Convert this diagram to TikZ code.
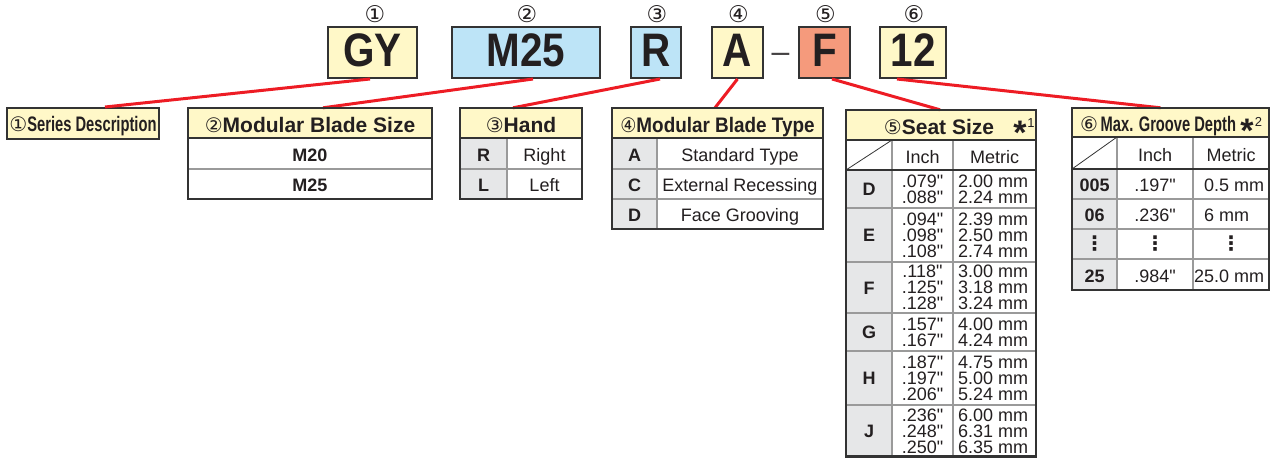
\documentclass[tikz,border=0pt]{standalone}
\usepackage{fontspec}
\usepackage{graphicx}
\setmainfont[Ligatures=TeXOff]{Liberation Sans}
\newfontfamily\condA[FakeStretch=0.86]{Liberation Sans}
\newfontfamily\condB[FakeStretch=0.7]{Liberation Sans}
\newfontfamily\dejavu{DejaVu Sans}
\newcommand\myfs[1]{\fontsize{#1}{#1}\selectfont}
\newcommand\hc[1]{{\dejavu\mdseries\fontsize{20}{20}\selectfont #1}}
\definecolor{hdr}{HTML}{FFF8C8}
\definecolor{bluef}{HTML}{BDE4F7}
\definecolor{salm}{HTML}{F59A7C}
\definecolor{cellg}{HTML}{E6E7E8}
\definecolor{ink}{HTML}{231F20}
\definecolor{frame}{HTML}{333333}
\definecolor{gridc}{HTML}{9A9A9A}
\definecolor{redl}{HTML}{ED1C24}
\tikzset{
 outer/.style={draw=frame, line width=2.2pt},
 hdrline/.style={draw=frame, line width=1.6pt},
 subline/.style={draw=frame, line width=1.1pt},
 gridl/.style={draw=gridc, line width=1.2pt},
 redline/.style={draw=redl, line width=3pt},
 codebox/.style={draw=frame, line width=2pt, inner sep=0pt, minimum height=51pt, text=ink, font=\condA\bfseries\myfs{47}, text height=34pt, text depth=6pt},
 circnum/.style={inner sep=0pt, text=ink, font=\dejavu\myfs{23}},
 hdrbox/.style={fill=hdr, inner sep=0pt, draw=none},
 ttl/.style={anchor=base, inner sep=0pt, text=ink, font=\bfseries\myfs{21}},
 cellb/.style={anchor=base, inner sep=0pt, text=ink, font=\bfseries\myfs{18}},
 cellr/.style={anchor=base, inner sep=0pt, text=ink, font=\myfs{18}},
 cellm/.style={align=center, inner sep=0pt, text=ink, font=\fontsize{18}{16}\selectfont},
 vdots/.style={inner sep=0pt, text=ink, font=\dejavu\bfseries\myfs{20}},
 star/.style={anchor=base, inner sep=0pt, text=ink, font=\bfseries\myfs{34}},
 supn/.style={anchor=base, inner sep=0pt, text=ink, font=\myfs{13}},
}
\begin{document}
\begin{tikzpicture}[x=1pt,y=-1pt]
\useasboundingbox (0,0) rectangle (1276,458);
% code boxes
\node[codebox, fill=hdr, minimum width=89pt] (gy) at (372.5,52.5) {GY};
\node[codebox, fill=bluef, minimum width=148pt] (m25) at (526,52.5) {M25};
\node[codebox, fill=bluef, minimum width=50pt] (r) at (656,52.5) {R};
\node[codebox, fill=hdr, minimum width=51pt] (a) at (737.5,52.5) {A};
\node[anchor=base, inner sep=0pt, text=ink!85, font=\myfs{32}] (dash) at (780.5,62) {–};
\node[codebox, fill=salm, minimum width=51pt] (f) at (824.5,52.5) {F};
\node[codebox, fill=hdr, minimum width=66pt] (n12) at (913,52.5) {12};
% circled numbers
\node[circnum] (c1) at (375,14) {①};
\node[circnum] (c2) at (527,14) {②};
\node[circnum] (c3) at (657,14) {③};
\node[circnum] (c4) at (738.5,14) {④};
\node[circnum] (c5) at (825.5,14) {⑤};
\node[circnum] (c6) at (914,14) {⑥};
% table 1
\node[draw=frame, line width=2pt, fill=hdr, minimum width=152pt, minimum height=31pt, inner sep=0pt, text height=15pt, text depth=0pt, text=ink] (t1) at (83,123.5) {{\dejavu\myfs{20}①}{\condB\bfseries\myfs{21}Series Description}};
% header fills
\node[hdrbox, minimum width=244pt, minimum height=30pt] (h2) at (310,123) {};
\node[hdrbox, minimum width=122pt, minimum height=30pt] (h3) at (521,123) {};
\node[hdrbox, minimum width=211pt, minimum height=30pt] (h4) at (717.5,123) {};
\node[hdrbox, minimum width=190pt, minimum height=30pt] (h5) at (941,125) {};
\node[hdrbox, minimum width=197pt, minimum height=29pt] (h6) at (1170.5,122.5) {};
% gray cells
\fill[cellg] (460,138) rectangle (507,199);
\fill[cellg] (612,138) rectangle (657,229);
\fill[cellg] (846,170) rectangle (892,456.5);
\fill[cellg] (1072,169) rectangle (1117,290);
% red connectors
\draw[redline] ([xshift=-2.5pt]gy.south) -- ([xshift=22pt]t1.north);
\draw[redline] ([xshift=7pt]m25.south) -- ([xshift=13pt]h2.north);
\draw[redline] ([xshift=4pt]r.south) -- ([xshift=-8pt]h3.north);
\draw[redline] (a.south) -- ([xshift=-2.5pt]h4.north);
\draw[redline] ([xshift=7.5pt]f.south) -- ([xshift=-1pt]h5.north);
\draw[redline] ([xshift=-16pt]n12.south) -- ([xshift=-10pt]h6.north);
% table 2 lines
\draw[gridl] (188,169) -- (432,169);
\draw[hdrline] (188,138) -- (432,138);
\draw[outer] (188,108) rectangle (432,199);
% table 3 lines
\draw[gridl] (460,169) -- (582,169) (507,138) -- (507,199);
\draw[hdrline] (460,138) -- (582,138);
\draw[outer] (460,108) rectangle (582,199);
% table 4 lines
\draw[gridl] (612,169) -- (823,169) (612,199) -- (823,199) (657,138) -- (657,229);
\draw[hdrline] (612,138) -- (823,138);
\draw[outer] (612,108) rectangle (823,229);
% table 5 lines
\draw[gridl] (846,208) -- (1036,208) (846,262) -- (1036,262) (846,313) -- (1036,313)
  (846,351) -- (1036,351) (846,405) -- (1036,405) (892,140) -- (892,456.5) (953,140) -- (953,456.5);
\draw[subline] (846,170) -- (1036,170);
\draw[line width=0.8pt, draw=frame] (846,170) -- (892,140);
\draw[hdrline] (846,140) -- (1036,140);
\draw[outer] (846,110) rectangle (1036,456.5);
% table 6 lines
\draw[gridl] (1072,199) -- (1269,199) (1072,229) -- (1269,229) (1072,259) -- (1269,259)
  (1117,137) -- (1117,290) (1193,137) -- (1193,290);
\draw[subline] (1072,169) -- (1269,169);
\draw[line width=0.8pt, draw=frame] (1072,169) -- (1117,137);
\draw[hdrline] (1072,137) -- (1269,137);
\draw[outer] (1072,108) rectangle (1269,290);
% table 2 text
\node[ttl] (h2t) at (310,132) {\hc{②}Modular Blade Size};
\node[cellb] (m20r) at (310,161) {M20};
\node[cellb] (m25r) at (310,191) {M25};
% table 3 text
\node[ttl] (h3t) at (521,132) {\hc{③}Hand};
\node[cellb] (rr) at (483.5,161) {R};
\node[cellb] (ll) at (483.5,191) {L};
\node[cellr] (right) at (544.5,161) {Right};
\node[cellr] (left) at (544.5,191) {Left};
% table 4 text
\node[ttl] (h4t) at (717.5,132) {\scalebox{0.9}[1]{\hc{④}Modular Blade Type}};
\node[cellb] (ta) at (634.5,161) {A};
\node[cellb] (tc) at (634.5,191) {C};
\node[cellb] (td) at (634.5,221) {D};
\node[cellr] (std) at (740,161) {Standard Type};
\node[cellr] (ext) at (740,191) {External Recessing};
\node[cellr] (face) at (740,221) {Face Grooving};
% table 5 text
\node[ttl] (h5t) at (939,134) {\hc{⑤}Seat Size};
\node[star] (s5) at (1020,144) {*};
\node[supn] (s5n) at (1031,127) {1};
\node[cellr] (in5) at (922.5,163) {Inch};
\node[cellr] (me5) at (994.5,163) {Metric};
\node[cellb] (sd) at (869,195.5) {D};
\node[cellb] (se) at (869,241.5) {E};
\node[cellb] (sf) at (869,294) {F};
\node[cellb] (sg) at (869,338.5) {G};
\node[cellb] (sh) at (869,384.5) {H};
\node[cellb] (sj) at (869,437.5) {J};
\node[cellm] (id) at (922.5,189) {.079"\\.088"};
\node[cellm] (ie) at (922.5,235) {.094"\\.098"\\.108"};
\node[cellm] (if) at (922.5,287.5) {.118"\\.125"\\.128"};
\node[cellm] (ig) at (922.5,332) {.157"\\.167"};
\node[cellm] (ih) at (922.5,378) {.187"\\.197"\\.206"};
\node[cellm] (ij) at (922.5,431) {.236"\\.248"\\.250"};
\node[cellm] (md) at (993,189) {2.00 mm\\2.24 mm};
\node[cellm] (me) at (993,235) {2.39 mm\\2.50 mm\\2.74 mm};
\node[cellm] (mf) at (993,287.5) {3.00 mm\\3.18 mm\\3.24 mm};
\node[cellm] (mg) at (993,332) {4.00 mm\\4.24 mm};
\node[cellm] (mh) at (993,378) {4.75 mm\\5.00 mm\\5.24 mm};
\node[cellm] (mj) at (993,431) {6.00 mm\\6.31 mm\\6.35 mm};
% table 6 text
\node[anchor=base, inner sep=0pt, text=ink] (h6t) at (1158,131.5) {{\dejavu\myfs{20}⑥} {\condB\bfseries\myfs{21}Max. Groove Depth}};
\node[star] (s6) at (1247,142) {*};
\node[supn] (s6n) at (1258.5,126.5) {2};
\node[cellr] (in6) at (1155,161.5) {Inch};
\node[cellr] (me6) at (1231,161.5) {Metric};
\node[cellb] (g005) at (1094.5,191.5) {005};
\node[cellb] (g06) at (1094.5,221.5) {06};
\node[vdots] (gdots) at (1094.5,244) {⋮};
\node[cellb] (g25) at (1094.5,282) {25};
\node[cellr] (i005) at (1155,191.5) {.197"};
\node[cellr] (i06) at (1155,221.5) {.236"};
\node[vdots] (idots) at (1155,244) {⋮};
\node[cellr] (i25) at (1155,282) {.984"};
\node[cellr, anchor=base west] (m005) at (1204,191.5) {0.5 mm};
\node[cellr, anchor=base west] (m06) at (1204,221.5) {6 mm};
\node[vdots] (mdots) at (1231,244) {⋮};
\node[cellr] (m25g) at (1229,282) {25.0 mm};
\end{tikzpicture}
\end{document}
